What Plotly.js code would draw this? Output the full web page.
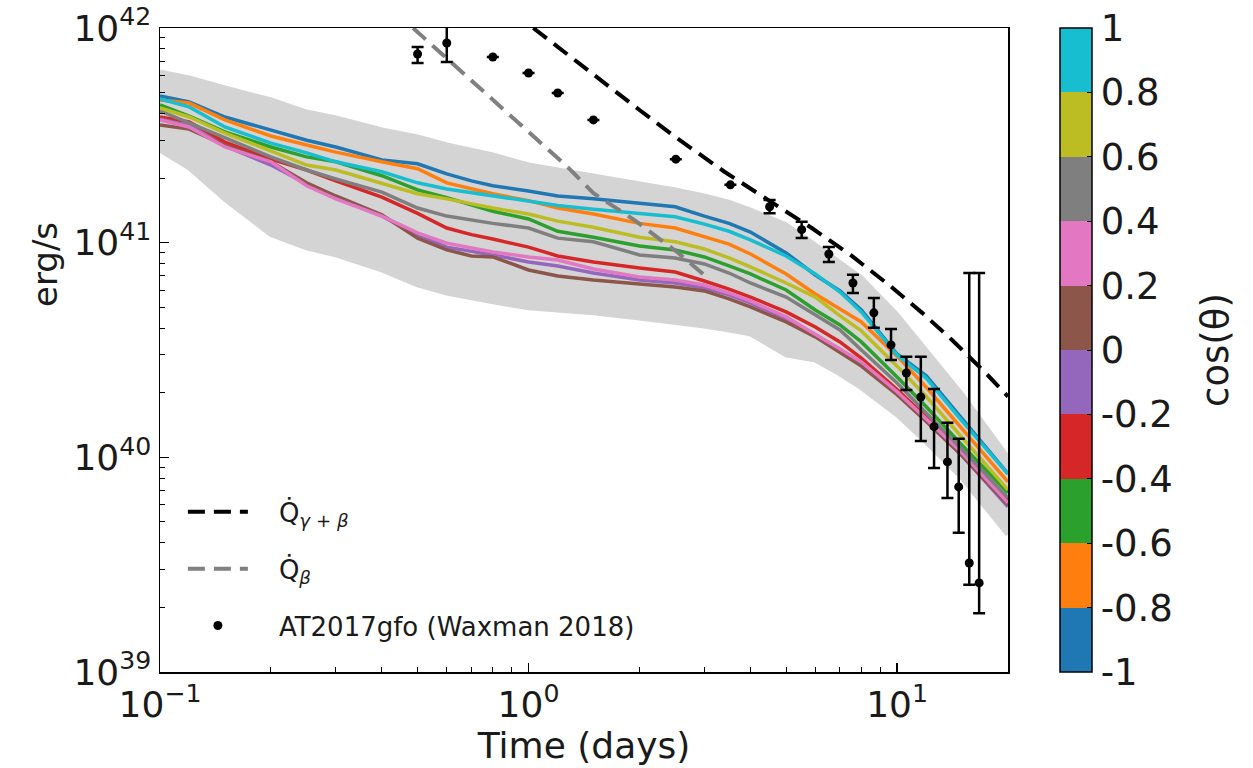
<!DOCTYPE html>
<html>
<head>
<meta charset="utf-8">
<script src="https://cdn.plot.ly/plotly-3.0.1.min.js"></script>
<style>html,body{margin:0;padding:0;background:#fff;}#chart{width:1253px;height:768px;}</style>
</head>
<body>
<div id="chart"></div>
<script>
// ---------- data (time in days, luminosity in erg/s) ----------
const tDays = [0.1, 0.12, 0.15, 0.2, 0.25, 0.3, 0.4, 0.5, 0.6, 0.7, 0.8, 1.0, 1.2, 1.5, 2.0, 2.5, 3.0, 3.5, 4.0, 5.0, 6.0, 7.0, 8.0, 10, 12, 15, 20];

// simulation spread (grey band) envelope
const bandUpper = [6.24e41,5.85e41,5.26e41,4.62e41,4.06e41,3.81e41,3.35e41,3.11e41,2.85e41,2.70e41,2.56e41,2.30e41,2.18e41,2.05e41,1.88e41,1.76e41,1.65e41,1.54e41,1.42e41,1.21e41,9.74e40,8.13e40,6.85e40,4.61e40,3.16e40,1.96e40,9.95e39];
const bandLower = [2.70e41,2.23e41,1.59e41,1.09e41,9.45e40,8.77e40,7.46e40,6.35e40,5.83e40,5.53e40,5.30e40,4.97e40,4.86e40,4.71e40,4.46e40,4.27e40,4.09e40,3.92e40,3.76e40,3.00e40,2.84e40,2.45e40,2.11e40,1.58e40,1.18e40,8.03e39,4.36e39];

// colour-coded viewing-angle light curves, labelled by cos(theta) bin centre
const cosBinCentres = [-0.9, -0.7, -0.5, -0.3, -0.1, 0.1, 0.3, 0.5, 0.7, 0.9];
const binColors = ['#1f77b4','#ff7f0e','#2ca02c','#d62728','#9467bd','#8c564b','#e377c2','#7f7f7f','#bcbd22','#17becf'];
const lumCosM09 = [4.83e41,4.52e41,3.85e41,3.35e41,3.00e41,2.79e41,2.43e41,2.33e41,2.09e41,1.94e41,1.84e41,1.74e41,1.65e41,1.60e41,1.52e41,1.47e41,1.33e41,1.23e41,1.12e41,8.96e40,7.07e40,5.96e40,4.86e40,3.03e40,2.40e40,1.51e40,8.38e39];
const lumCosM07 = [4.62e41,4.47e41,3.73e41,3.14e41,2.85e41,2.64e41,2.38e41,2.21e41,1.90e41,1.78e41,1.69e41,1.57e41,1.45e41,1.36e41,1.23e41,1.17e41,1.07e41,9.85e40,8.86e40,7.15e40,5.77e40,4.92e40,4.27e40,2.96e40,2.12e40,1.36e40,7.69e39];
const lumCosM05 = [4.38e41,3.89e41,3.28e41,2.79e41,2.51e41,2.38e41,2.05e41,1.76e41,1.62e41,1.50e41,1.40e41,1.29e41,1.13e41,1.06e41,9.64e40,9.25e40,8.58e40,7.79e40,7.15e40,6.02e40,4.86e40,4.14e40,3.45e40,2.37e40,1.72e40,1.14e40,6.83e39];
const lumCosM03 = [3.85e41,3.65e41,2.94e41,2.45e41,2.18e41,1.94e41,1.63e41,1.37e41,1.17e41,1.09e41,1.04e41,9.53e40,8.67e40,8.13e40,7.62e40,7.30e40,6.63e40,6.08e40,5.58e40,4.76e40,4.05e40,3.45e40,2.90e40,2.07e40,1.54e40,1.07e40,6.34e39];
const lumCosM01 = [3.77e41,3.50e41,2.82e41,2.30e41,1.88e41,1.63e41,1.33e41,1.09e41,9.53e40,9.15e40,8.77e40,8.13e40,7.79e40,7.22e40,6.70e40,6.49e40,6.15e40,5.71e40,5.24e40,4.41e40,3.72e40,3.16e40,2.72e40,2.00e40,1.48e40,1.02e40,5.88e39];
const lumCosP01 = [3.53e41,3.38e41,2.85e41,2.38e41,1.90e41,1.65e41,1.35e41,1.05e41,9.25e40,8.67e40,8.58e40,7.46e40,6.99e40,6.70e40,6.42e40,6.22e40,5.96e40,5.47e40,5.02e40,4.27e40,3.64e40,3.09e40,2.66e40,1.96e40,1.47e40,1.02e40,6.01e39];
const lumCosP03 = [3.73e41,3.46e41,2.79e41,2.38e41,1.84e41,1.60e41,1.33e41,1.11e41,9.95e40,9.45e40,9.05e40,8.58e40,8.31e40,7.54e40,6.92e40,6.70e40,6.35e40,5.83e40,5.35e40,4.51e40,3.76e40,3.20e40,2.78e40,2.02e40,1.51e40,1.05e40,6.14e39];
const lumCosP05 = [4.11e41,3.61e41,3.07e41,2.51e41,2.18e41,1.98e41,1.72e41,1.45e41,1.33e41,1.27e41,1.23e41,1.17e41,1.05e41,1.01e41,8.77e40,8.49e40,7.96e40,7.22e40,6.49e40,5.58e40,4.61e40,3.92e40,3.16e40,2.22e40,1.61e40,1.09e40,6.48e39];
const lumCosP07 = [4.24e41,3.85e41,3.24e41,2.67e41,2.30e41,2.18e41,1.88e41,1.69e41,1.60e41,1.52e41,1.45e41,1.36e41,1.26e41,1.18e41,1.06e41,1.01e41,9.35e40,8.49e40,7.71e40,6.49e40,5.58e40,4.56e40,3.88e40,2.66e40,1.92e40,1.24e40,7.06e39];
const lumCosP09 = [4.67e41,4.29e41,3.46e41,2.91e41,2.62e41,2.38e41,2.14e41,1.90e41,1.78e41,1.71e41,1.65e41,1.57e41,1.49e41,1.43e41,1.36e41,1.32e41,1.22e41,1.13e41,1.03e41,8.67e40,7.15e40,5.89e40,4.76e40,3.00e40,2.34e40,1.48e40,8.38e39];
const binSeries = [lumCosM09, lumCosM07, lumCosM05, lumCosM03, lumCosM01, lumCosP01, lumCosP03, lumCosP05, lumCosP07, lumCosP09];

// heating rates
const qTotT = [1.03, 1.50, 2.00, 2.50, 3.40, 4.37, 5.87, 7.54, 9.51, 11.7, 14.1, 17.4, 20];
const qTotL = [1.0e42, 6.04e41, 4.15e41, 3.11e41, 2.14e41, 1.62e41, 1.17e41, 8.67e40, 6.35e40, 4.71e40, 3.52e40, 2.47e40, 1.92e40];
const qBetaT = [0.486, 0.740, 0.994, 1.277, 1.50, 1.93, 2.55, 3.04];
const qBetaL = [1.0e42, 5.26e41, 3.31e41, 2.25e41, 1.70e41, 1.28e41, 8.95e40, 6.92e40];

// AT2017gfo bolometric luminosity (Waxman 2018)
const obsT  = [0.50, 0.60, 0.80, 1.00, 1.20, 1.50, 2.51, 3.53, 4.51, 5.51, 6.53, 7.59, 8.65, 9.63, 10.6, 11.6, 12.6, 13.7, 14.7, 15.7, 16.7];
const obsL  = [7.57e41, 8.51e41, 7.33e41, 6.17e41, 4.98e41, 3.73e41, 2.45e41, 1.86e41, 1.47e41, 1.15e41, 8.86e40, 6.49e40, 4.71e40, 3.34e40, 2.47e40, 1.91e40, 1.39e40, 9.52e39, 7.28e39, 3.22e39, 2.60e39];
const obsLo = [6.87e41, 6.95e41, null, null, null, null, null, null, 1.37e41, 1.05e41, 8.13e40, 5.83e40, 4.01e40, 2.84e40, 2.06e40, 1.19e40, 8.93e39, 6.47e39, 4.45e39, 2.55e39, 1.88e39];
const obsHi = [8.16e41, 1.09e42, null, null, null, null, null, null, 1.58e41, 1.25e41, 9.55e40, 7.08e40, 5.52e40, 3.96e40, 2.94e40, 2.94e40, 2.08e40, 1.45e40, 1.22e40, 7.22e40, 7.22e40];

// axis ticks
const xTickVals = [0.1, 1, 10];
const xTickText = ['10<sup>−1</sup>', '10<sup>0</sup>', '10<sup>1</sup>'];
const xMinorVals = [0.2,0.3,0.4,0.5,0.6,0.7,0.8,0.9,2,3,4,5,6,7,8,9,20];
const yTickVals = [1e39, 1e40, 1e41, 1e42];
const yTickText = ['10<sup>39</sup>', '10<sup>40</sup>', '10<sup>41</sup>', '10<sup>42</sup>'];
const yMinorVals = [2e39,3e39,4e39,5e39,6e39,7e39,8e39,9e39,2e40,3e40,4e40,5e40,6e40,7e40,8e40,9e40,2e41,3e41,4e41,5e41,6e41,7e41,8e41,9e41];
const cbTickVals = [-1, -0.8, -0.6, -0.4, -0.2, 0, 0.2, 0.4, 0.6, 0.8, 1];
const cbTickText = ['-1', '-0.8', '-0.6', '-0.4', '-0.2', '0', '0.2', '0.4', '0.6', '0.8', '1'];

// ---------- build ----------
const FONT = 'DejaVu Sans, Liberation Sans, sans-serif';
const TXT = '#1a1a1a';
const BAND = '#d4d4d4';
const traces = [];

traces.push({x: tDays, y: bandLower, mode: 'lines', line: {color: BAND, width: 5}, showlegend: false, hoverinfo: 'skip'});
traces.push({x: tDays, y: bandUpper, mode: 'lines', line: {color: BAND, width: 5}, fill: 'tonexty', fillcolor: BAND, showlegend: false, hoverinfo: 'skip'});

binSeries.forEach((s, i) => {
  traces.push({x: tDays, y: s, mode: 'lines', line: {color: binColors[i], width: 3.5}, showlegend: false, name: 'cos=' + cosBinCentres[i]});
});

const SP = '\u2003';
traces.push({x: qTotT, y: qTotL, mode: 'lines', name: SP + 'Q\u0307<sub><i>γ</i> + <i>β</i></sub>',
  line: {color: '#000', width: 4, dash: '17px,9px'}, legendgroup: 'a'});
traces.push({x: qBetaT, y: qBetaL, mode: 'lines', name: SP + 'Q\u0307<sub><i>β</i></sub>',
  line: {color: '#808080', width: 4, dash: '17px,9px'}, legendgroup: 'b'});

const errPlus = obsHi.map((h, i) => h === null ? null : h - obsL[i]);
const errMinus = obsLo.map((l, i) => l === null ? null : obsL[i] - l);
traces.push({x: obsT, y: obsL, mode: 'markers', name: SP + 'AT2017gfo (Waxman 2018)', legendgroup: 'c',
  marker: {color: '#000', size: 9},
  error_y: {type: 'data', symmetric: false, array: errPlus, arrayminus: errMinus, color: '#000', thickness: 2.5, width: 6}});

// colour bar
const cs = [];
binColors.forEach((c, i) => { cs.push([i / binColors.length, c]); cs.push([(i + 1) / binColors.length, c]); });
traces.push({x: [null, null], y: [null, null], mode: 'markers', showlegend: false, hoverinfo: 'skip',
  marker: {color: [-1, 1], cmin: -1, cmax: 1, colorscale: cs, showscale: true,
    colorbar: {x: 1.0613, xanchor: 'left', xpad: 0, y: 0.5, yanchor: 'middle', ypad: 0, len: 1, lenmode: 'fraction', thickness: 32,
      outlinecolor: '#000', outlinewidth: 1.5, ticks: 'inside', ticklen: 5, tickcolor: '#000',
      tickvals: cbTickVals, ticktext: cbTickText, tickfont: {family: FONT, size: 37, color: TXT}}}});

const layout = {
  width: 1253, height: 768,
  margin: {l: 160, r: 245, t: 28, b: 96},
  paper_bgcolor: '#fff', plot_bgcolor: '#fff',
  font: {family: FONT, color: TXT},
  showlegend: true,
  legend: {x: 0.027, y: 0.285, xanchor: 'left', yanchor: 'top', bgcolor: 'rgba(0,0,0,0)',
    itemwidth: 60, font: {family: FONT, size: 26, color: TXT}, traceorder: 'grouped', tracegroupgap: 20},
  xaxis: {type: 'log', range: [-1, Math.log10(20)], tickmode: 'array', tickvals: xTickVals, ticktext: xTickText,
    showline: true, linecolor: '#000', linewidth: 1.5, mirror: true,
    ticks: 'inside', ticklen: 9, tickwidth: 1.2, tickcolor: '#000',
    minor: {tickmode: 'array', tickvals: xMinorVals, ticks: 'inside', ticklen: 5, tickwidth: 1, tickcolor: '#000', showgrid: false},
    showgrid: false, zeroline: false,
    tickfont: {family: FONT, size: 36, color: TXT},
    title: {text: 'Time (days)', font: {family: FONT, size: 36, color: TXT}, standoff: 4}},
  yaxis: {type: 'log', range: [39, 42], tickmode: 'array', tickvals: yTickVals, ticktext: yTickText,
    showline: true, linecolor: '#000', linewidth: 1.5, mirror: true,
    ticks: 'inside', ticklen: 9, tickwidth: 1.2, tickcolor: '#000',
    minor: {tickmode: 'array', tickvals: yMinorVals, ticks: 'inside', ticklen: 5, tickwidth: 1, tickcolor: '#000', showgrid: false},
    showgrid: false, zeroline: false,
    tickfont: {family: FONT, size: 36, color: TXT}},
  annotations: [
    {text: 'erg/s', xref: 'paper', yref: 'paper', x: -0.1356, y: 0.632, xanchor: 'center', yanchor: 'middle', textangle: -90,
      showarrow: false, font: {family: FONT, size: 34, color: TXT}},
    {text: 'cos(θ)', xref: 'paper', yref: 'paper', x: 1.244, y: 0.5, xanchor: 'center', yanchor: 'middle', textangle: -90,
      showarrow: false, font: {family: FONT, size: 37, color: TXT}}
  ]
};

Plotly.newPlot('chart', traces, layout, {displayModeBar: false, staticPlot: true});
</script>
</body>
</html>
